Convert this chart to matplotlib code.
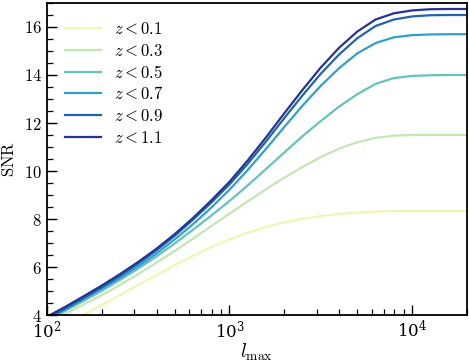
import matplotlib
matplotlib.use("Agg")
import matplotlib.pyplot as plt
from matplotlib.ticker import FixedLocator, MultipleLocator, FuncFormatter, LogLocator

plt.rcParams['mathtext.fontset'] = 'cm'
plt.rcParams['font.family'] = ['DejaVu Serif']

l_max = [100, 126, 158, 200, 251, 316, 398, 501, 631, 794, 1000, 1259, 1585,
         1995, 2512, 3162, 3981, 5012, 6310, 7943, 10000, 12589, 15849, 20000]

snr_z01 = [3.20, 3.60, 4.00, 4.41, 4.83, 5.25, 5.66, 6.08, 6.46, 6.82, 7.15, 7.43,
           7.67, 7.86, 8.01, 8.12, 8.21, 8.27, 8.31, 8.33, 8.33, 8.33, 8.33, 8.33]
snr_z03 = [3.68, 4.05, 4.43, 4.83, 5.25, 5.70, 6.18, 6.67, 7.18, 7.70, 8.22, 8.74,
           9.24, 9.72, 10.17, 10.58, 10.93, 11.20, 11.38, 11.47, 11.50, 11.50, 11.50, 11.50]
snr_z05 = [3.78, 4.17, 4.58, 5.01, 5.46, 5.93, 6.44, 6.98, 7.55, 8.14, 8.75, 9.40,
           10.08, 10.77, 11.45, 12.08, 12.68, 13.20, 13.63, 13.87, 13.96, 13.99, 14.00, 14.00]
snr_z07 = [3.83, 4.23, 4.65, 5.10, 5.54, 6.03, 6.56, 7.15, 7.78, 8.47, 9.22, 10.04,
           10.92, 11.83, 12.72, 13.55, 14.28, 14.90, 15.33, 15.57, 15.66, 15.69, 15.70, 15.70]
snr_z09 = [3.86, 4.27, 4.70, 5.16, 5.63, 6.14, 6.69, 7.30, 7.97, 8.68, 9.44, 10.30,
           11.23, 12.20, 13.15, 14.05, 14.85, 15.53, 16.04, 16.31, 16.44, 16.49, 16.50, 16.50]
snr_z11 = [3.93, 4.34, 4.77, 5.23, 5.70, 6.21, 6.76, 7.37, 8.04, 8.77, 9.55, 10.44,
           11.40, 12.40, 13.38, 14.31, 15.13, 15.81, 16.31, 16.57, 16.69, 16.74, 16.75, 16.75]

labels = [r'$z<0.1$', r'$z<0.3$', r'$z<0.5$', r'$z<0.7$', r'$z<0.9$', r'$z<1.1$']
colors = ['#edf8b1', '#c2e6b4', '#65c3bf', '#2fa1cd', '#2164ad', '#253494']
series = [snr_z01, snr_z03, snr_z05, snr_z07, snr_z09, snr_z11]

fig = plt.figure(figsize=(4.69, 3.61), dpi=100)
ax = fig.add_axes([0.1, 0.1274, 0.8957, 0.8643])

for s, lab, c in zip(series, labels, colors):
    ax.plot(l_max, s, color=c, lw=1.6, label=lab)

ax.set_xscale('log')
ax.set_xlim(100, 20000)
ax.set_ylim(4, 17)

ax.yaxis.set_major_locator(FixedLocator([4, 6, 8, 10, 12, 14, 16]))
ax.yaxis.set_minor_locator(MultipleLocator(0.5))
ax.yaxis.set_major_formatter(FuncFormatter(lambda v, p: r'$%d$' % v))
ax.xaxis.set_major_locator(LogLocator(base=10))
ax.xaxis.set_minor_locator(LogLocator(base=10, subs=range(2, 10)))

ax.tick_params(which='both', direction='in', top=False, right=False, labelsize=12)
ax.tick_params(which='major', length=7, width=1.0)
ax.tick_params(which='minor', length=4, width=0.9)
for sp in ax.spines.values():
    sp.set_linewidth(1.3)

ax.set_xlabel(r'$l_{\max}$', fontsize=14, labelpad=0)
ax.set_ylabel(r'$\mathrm{SNR}$', fontsize=12, labelpad=4)

leg = ax.legend(loc='upper left', frameon=False, fontsize=12, handlelength=2.15,
                handletextpad=0.8, labelspacing=0.28, borderaxespad=0.7)

fig.savefig('out.png', dpi=100)
